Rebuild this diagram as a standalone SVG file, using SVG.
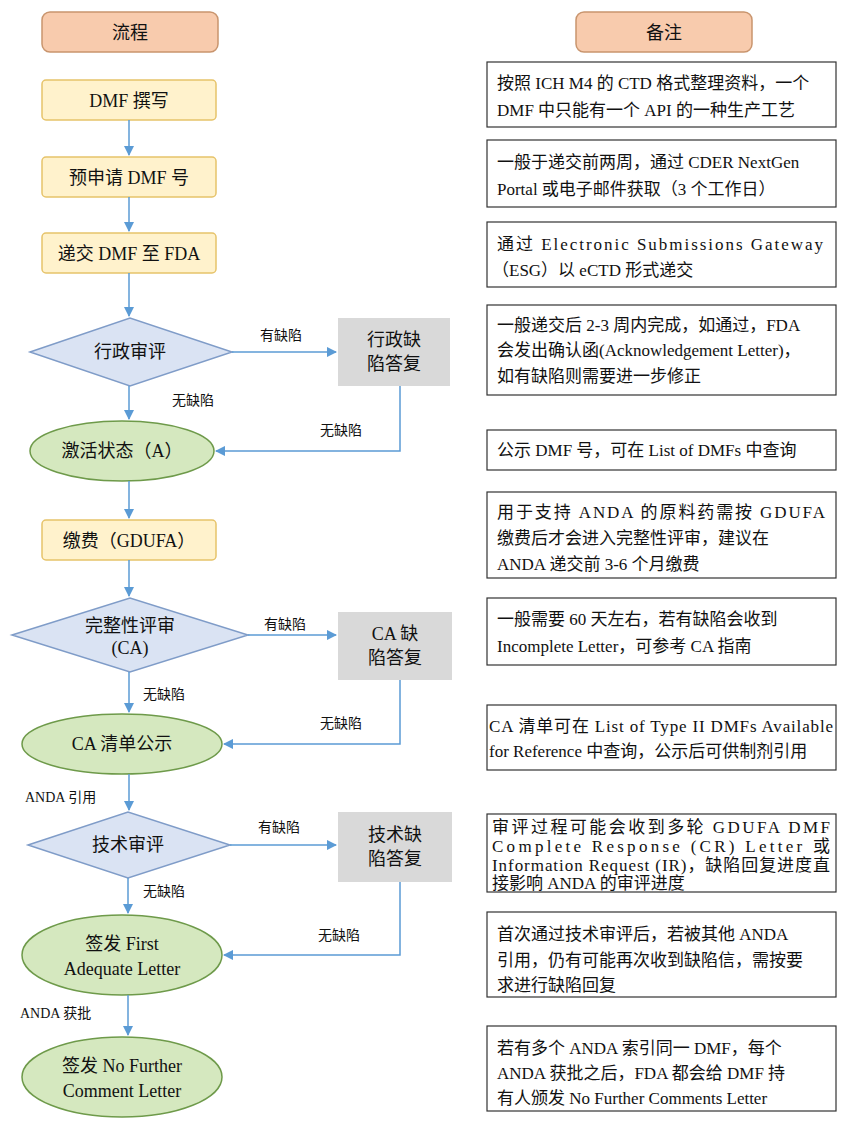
<svg xmlns="http://www.w3.org/2000/svg" width="853" height="1121" viewBox="0 0 853 1121">
<style>
text{font-family:"Liberation Serif","Noto Sans CJK SC",serif;fill:#111}
.hd{fill:#f8cbad;stroke:#c9956e;stroke-width:1.5}
.yb{fill:#fff2cc;stroke:#e6c36a;stroke-width:1.5}
.dm{fill:#dae3f3;stroke:#7f9cc8;stroke-width:1.5}
.gy{fill:#d9d9d9}
.el{fill:#d5e8bf;stroke:#6e9a4a;stroke-width:1.5}
.nt{fill:#fff;stroke:#333;stroke-width:1.2}
.c{font-size:18px;text-anchor:middle}
.n{font-size:17px}
.l{font-size:14px}
.ln{fill:none;stroke:#5b9bd5;stroke-width:1.5}
</style>
<defs><marker id="a" viewBox="0 0 10 10" refX="9" refY="5" markerWidth="7" markerHeight="7" orient="auto"><path d="M0,0L10,5L0,10z" fill="#5b9bd5"/></marker></defs>
<rect width="853" height="1121" fill="#fff"/>
<g id="h1"><rect class="hd" x="42" y="12" width="176" height="40" rx="8"/><text class="c" x="130" y="39">流程</text></g>
<g id="h2"><rect class="hd" x="576" y="12" width="176" height="40" rx="8"/><text class="c" x="664" y="39">备注</text></g>
<g id="n1"><rect class="yb" x="42" y="80" width="174" height="40" rx="4"/><text class="c" x="129" y="107">DMF 撰写</text></g>
<g id="n2"><rect class="yb" x="42" y="157" width="174" height="40" rx="4"/><text class="c" x="129" y="184">预申请 DMF 号</text></g>
<g id="n3"><rect class="yb" x="42" y="233" width="174" height="40" rx="4"/><text class="c" x="129" y="260">递交 DMF 至 FDA</text></g>
<g id="n4"><polygon class="dm" points="30,352 130,318 232,352 130,386"/><text class="c" x="130" y="358">行政审评</text></g>
<g id="n5"><rect class="gy" x="338" y="318" width="112" height="68"/><text class="c" x="394" y="346">行政缺</text><text class="c" x="394" y="370">陷答复</text></g>
<g id="n6"><ellipse class="el" cx="122" cy="451" rx="92" ry="30"/><text class="c" x="122" y="457">激活状态（A）</text></g>
<g id="n7"><rect class="yb" x="42" y="520" width="174" height="40" rx="4"/><text class="c" x="129" y="547">缴费（GDUFA）</text></g>
<g id="n8"><polygon class="dm" points="12,635 130,598 248,635 130,672"/><text class="c" x="130" y="632">完整性评审</text><text class="c" x="130" y="654">(CA)</text></g>
<g id="n9"><rect class="gy" x="338" y="612" width="114" height="68"/><text class="c" x="395" y="640">CA 缺</text><text class="c" x="395" y="664">陷答复</text></g>
<g id="n10"><ellipse class="el" cx="122" cy="744" rx="100" ry="30"/><text class="c" x="122" y="750">CA 清单公示</text></g>
<g id="n11"><polygon class="dm" points="28,845 128,812 230,845 128,878"/><text class="c" x="128" y="851">技术审评</text></g>
<g id="n12"><rect class="gy" x="338" y="812" width="114" height="70"/><text class="c" x="395" y="841">技术缺</text><text class="c" x="395" y="865">陷答复</text></g>
<g id="n13"><ellipse class="el" cx="122" cy="955" rx="100" ry="40"/><text class="c" x="122" y="950">签发 First</text><text class="c" x="122" y="975">Adequate Letter</text></g>
<g id="n14"><ellipse class="el" cx="122" cy="1077" rx="100" ry="40"/><text class="c" x="122" y="1072">签发 No Further</text><text class="c" x="122" y="1097">Comment Letter</text></g>
<g id="notes">
<rect class="nt" x="487" y="62" width="349" height="65"/><text class="n" x="497" y="89">按照 ICH M4 的 CTD 格式整理资料，一个</text><text class="n" x="497" y="116">DMF 中只能有一个 API 的一种生产工艺</text>
<rect class="nt" x="487" y="140" width="349" height="67"/><text class="n" x="497" y="168">一般于递交前两周，通过 CDER NextGen</text><text class="n" x="497" y="195">Portal 或电子邮件获取（3 个工作日）</text>
<rect class="nt" x="487" y="222" width="349" height="65"/><text class="n" x="497" y="250" textLength="326">通过 Electronic Submissions Gateway</text><text class="n" x="492" y="276">（ESG）以 eCTD 形式递交</text>
<rect class="nt" x="487" y="305" width="349" height="90"/><text class="n" x="497" y="331">一般递交后 2-3 周内完成，如通过，FDA</text><text class="n" x="497" y="356">会发出确认函(Acknowledgement Letter)，</text><text class="n" x="497" y="382">如有缺陷则需要进一步修正</text>
<rect class="nt" x="487" y="430" width="349" height="40"/><text class="n" x="497" y="456">公示 DMF 号，可在 List of DMFs 中查询</text>
<rect class="nt" x="487" y="492" width="349" height="86"/><text class="n" x="497" y="518" textLength="328">用于支持 ANDA 的原料药需按 GDUFA</text><text class="n" x="497" y="544">缴费后才会进入完整性评审，建议在</text><text class="n" x="497" y="570">ANDA 递交前 3-6 个月缴费</text>
<rect class="nt" x="487" y="598" width="349" height="67"/><text class="n" x="497" y="625">一般需要 60 天左右，若有缺陷会收到</text><text class="n" x="497" y="652">Incomplete Letter，可参考 CA 指南</text>
<rect class="nt" x="487" y="705" width="349" height="65"/><text class="n" x="489" y="732" textLength="344">CA 清单可在 List of Type II DMFs Available</text><text class="n" x="489" y="757">for Reference 中查询，公示后可供制剂引用</text>
<rect class="nt" x="487" y="814" width="349" height="78"/><text class="n" x="492" y="833" textLength="338">审评过程可能会收到多轮 GDUFA DMF</text><text class="n" x="492" y="852" textLength="338">Complete Response (CR) Letter 或</text><text class="n" x="492" y="871" textLength="338">Information Request (IR)，缺陷回复进度直</text><text class="n" x="492" y="889">接影响 ANDA 的审评进度</text>
<rect class="nt" x="487" y="912" width="349" height="85"/><text class="n" x="497" y="940">首次通过技术审评后，若被其他 ANDA</text><text class="n" x="497" y="966">引用，仍有可能再次收到缺陷信，需按要</text><text class="n" x="497" y="991">求进行缺陷回复</text>
<rect class="nt" x="487" y="1026" width="349" height="85"/><text class="n" x="497" y="1054">若有多个 ANDA 索引同一 DMF，每个</text><text class="n" x="497" y="1079">ANDA 获批之后，FDA 都会给 DMF 持</text><text class="n" x="497" y="1104">有人颁发 No Further Comments Letter</text>
</g>
<g id="connectors">
<path class="ln" marker-end="url(#a)" d="M129,120V155"/>
<path class="ln" marker-end="url(#a)" d="M129,197V231"/>
<path class="ln" marker-end="url(#a)" d="M129,273V316"/>
<path class="ln" marker-end="url(#a)" d="M129,386V419"/>
<path class="ln" marker-end="url(#a)" d="M129,481V518"/>
<path class="ln" marker-end="url(#a)" d="M129,560V596"/>
<path class="ln" marker-end="url(#a)" d="M129,672V712"/>
<path class="ln" marker-end="url(#a)" d="M129,774V810"/>
<path class="ln" marker-end="url(#a)" d="M128,878V913"/>
<path class="ln" marker-end="url(#a)" d="M128,995V1035"/>
<path class="ln" marker-end="url(#a)" d="M232,352H336"/>
<path class="ln" marker-end="url(#a)" d="M248,635H336"/>
<path class="ln" marker-end="url(#a)" d="M230,845H336"/>
<path class="ln" marker-end="url(#a)" d="M400,386V451H216"/>
<path class="ln" marker-end="url(#a)" d="M400,680V744H224"/>
<path class="ln" marker-end="url(#a)" d="M400,882V955H224"/>
</g>
<g id="labels">
<text class="l" x="260" y="340">有缺陷</text><text class="l" x="172" y="405">无缺陷</text><text class="l" x="320" y="435">无缺陷</text>
<text class="l" x="264" y="629">有缺陷</text><text class="l" x="143" y="699">无缺陷</text><text class="l" x="320" y="728">无缺陷</text>
<text class="l" x="25" y="802">ANDA 引用</text>
<text class="l" x="258" y="832">有缺陷</text><text class="l" x="143" y="896">无缺陷</text><text class="l" x="318" y="940">无缺陷</text>
<text class="l" x="20" y="1018">ANDA 获批</text>
</g>
</svg>
